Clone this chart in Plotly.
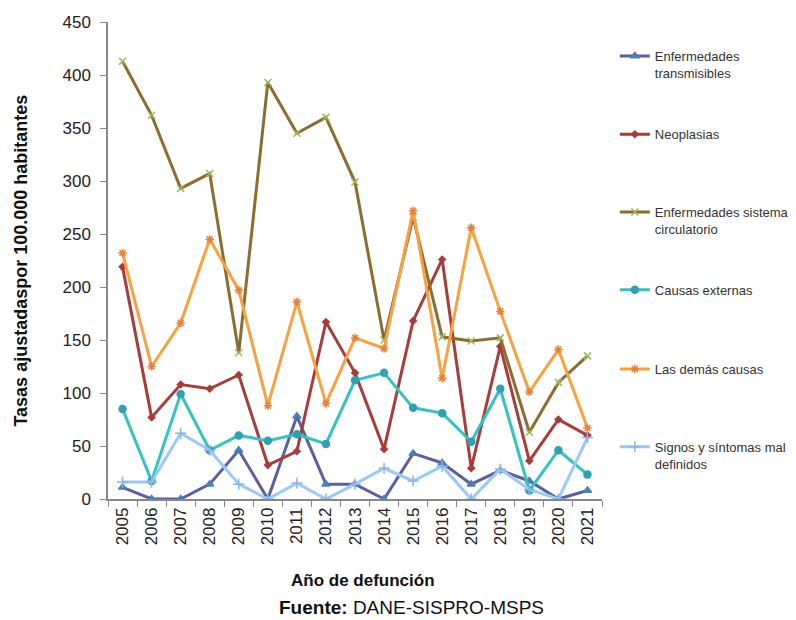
import plotly.graph_objects as go

years = [str(y) for y in range(2005, 2022)]

transmisibles = [11, 0, 0, 14, 46, 0, 78, 14, 14, 0, 43, 34, 14, 27, 17, 0, 8]
neoplasias = [219, 77, 108, 104, 117, 32, 45, 167, 119, 47, 168, 226, 29, 144, 36, 75, 60]
circulatorio = [413, 362, 293, 307, 138, 393, 345, 360, 299, 150, 266, 153, 149, 152, 63, 110, 135]
externas = [85, 17, 99, 46, 60, 55, 61, 52, 112, 119, 86, 81, 54, 104, 8, 46, 23]
demas = [232, 125, 166, 245, 197, 88, 186, 90, 152, 142, 272, 114, 256, 177, 101, 141, 67]
signos = [16, 16, 62, 46, 14, 0, 15, 0, 14, 29, 17, 31, 0, 28, 9, 0, 58]

names = ["Enfermedades<br>transmisibles", "Neoplasias",
         "Enfermedades sistema<br>circulatorio", "Causas externas",
         "Las demás causas", "Signos y síntomas mal<br>definidos"]

FONT = "Arial, Liberation Sans, sans-serif"

series = [
    (transmisibles, "#5C5F9E", "triangle-up", "#4A7EBB", 7),
    (neoplasias, "#A83C3A", "diamond", "#A83C3A", 5),
    (circulatorio, "#8C6D31", "x-thin-open", "#9BBB59", 7),
    (externas, "#33C3C0", "circle", "#31A0B0", 7),
    (demas, "#F9A03F", "asterisk-open", "#E8803A", 7),
    (signos, "#9DC8F7", "cross-thin-open", "#8EB4E3", 8),
]

# legend block positions (paper coords), one legend per series
leg_y = [0.96, 0.796, 0.633, 0.47, 0.304, 0.141]

fig = go.Figure()
for i, ((vals, lc, sym, mc, ms), name) in enumerate(zip(series, names)):
    lg = "legend" if i == 0 else f"legend{i + 1}"
    fig.add_trace(go.Scatter(
        x=years, y=vals, name=name, mode="lines+markers",
        line=dict(color=lc, width=3),
        marker=dict(symbol=sym, color=mc, size=ms, line=dict(color=mc, width=1.5)),
        legend=lg,
    ))

layout_legends = {}
for i, yy in enumerate(leg_y):
    key = "legend" if i == 0 else f"legend{i + 1}"
    layout_legends[key] = dict(
        x=1.026, y=yy, xanchor="left", yanchor="top", valign="top",
        font=dict(family=FONT, size=13, color="#333333"),
        bgcolor="rgba(0,0,0,0)", itemwidth=30,
    )

fig.update_layout(
    width=796, height=620,
    margin=dict(l=108, r=194, t=22, b=121, autoexpand=False),
    paper_bgcolor="white", plot_bgcolor="white",
    font=dict(family=FONT, color="#222222"),
    showlegend=True,
    **layout_legends,
)

fig.update_xaxes(
    type="category", range=[-0.5, 16.5], tickangle=-90,
    tickfont=dict(size=17, color="#222222"),
    showline=True, linecolor="#888888", linewidth=1.5,
    ticks="outside", tickson="boundaries", ticklen=6, tickcolor="#888888",
    showgrid=False, zeroline=False,
)
fig.update_yaxes(
    range=[0, 450], dtick=50, tickfont=dict(size=17, color="#222222"),
    showline=True, linecolor="#888888", linewidth=1.5,
    ticks="outside", ticklen=6, tickcolor="#888888", ticklabelstandoff=6,
    showgrid=False, zeroline=False,
)

fig.add_annotation(
    text="<b>Tasas ajustadaspor 100.000 habitantes</b>", textangle=-90,
    xref="paper", yref="paper", x=-0.178, y=0.50, xanchor="center", yanchor="middle",
    showarrow=False, font=dict(family=FONT, size=18, color="#111111"),
)
fig.add_annotation(
    text="<b>Año de defunción</b>",
    xref="paper", yref="paper", x=0.516, y=-0.17, xanchor="center", yanchor="middle",
    showarrow=False, font=dict(family=FONT, size=17, color="#111111"),
)
fig.add_annotation(
    text="<b>Fuente:</b> DANE-SISPRO-MSPS",
    xref="paper", yref="paper", x=0.615, y=-0.227, xanchor="center", yanchor="middle",
    showarrow=False, font=dict(family=FONT, size=19, color="#111111"),
)

fig.write_html("out.html", config={"displayModeBar": False},
               post_script="document.body.style.margin='0';")
